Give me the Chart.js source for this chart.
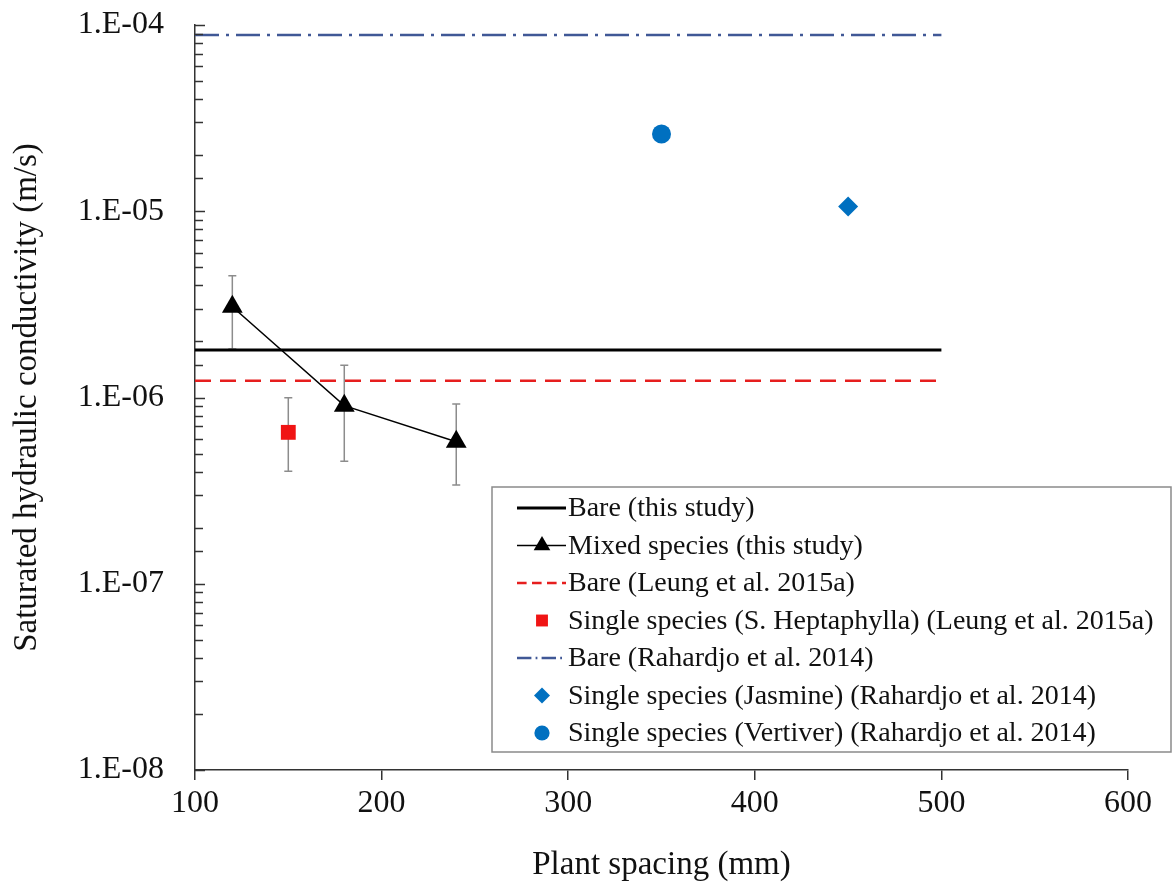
<!DOCTYPE html>
<html>
<head>
<meta charset="utf-8">
<script src="https://cdn.jsdelivr.net/npm/chart.js@4.4.1/dist/chart.umd.min.js"></script>
<style>
  html, body { margin: 0; padding: 0; background: #fff; }
  #wrap { width: 1173px; height: 890px; }
</style>
</head>
<body>
<div id="wrap"><canvas id="myChart" width="1173" height="890"></canvas></div>
<script>
// values (plant spacing in mm, k_sat in m/s)
var lineSpan = [100, 500];
var bareThisStudy = 1.80e-6;
var bareLeung = 1.23e-6;
var bareRahardjo = 8.84e-5;

var mixedSpacing = [120, 180, 240];
var mixedK = [3.07e-6, 9.04e-7, 5.79e-7];
var mixedHigh = [4.51e-6, 1.49e-6, 9.23e-7];
var mixedLow = [1.82e-6, 4.54e-7, 3.39e-7];

var heptaSpacing = [150];
var heptaK = [6.50e-7];
var heptaHigh = [9.97e-7];
var heptaLow = [4.02e-7];

var jasmineSpacing = [450];
var jasmineK = [1.06e-5];
var vertiverSpacing = [350];
var vertiverK = [2.60e-5];

var yMajorTicks = [1e-8, 1e-7, 1e-6, 1e-5, 1e-4];

var seriesLabels = [
    'Bare (this study)',
    'Mixed species (this study)',
    'Bare (Leung et al. 2015a)',
    'Single species (S. Heptaphylla) (Leung et al. 2015a)',
    'Bare (Rahardjo et al. 2014)',
    'Single species (Jasmine) (Rahardjo et al. 2014)',
    'Single species (Vertiver) (Rahardjo et al. 2014)'
];

function toPoints(xs, ys) {
    return xs.map(function (x, i) { return { x: x, y: ys[i] }; });
}
function flat(xs, v) {
    return xs.map(function (x) { return { x: x, y: v }; });
}

var serif = 'Liberation Serif';
var blue = 'rgb(0,112,192)';

// error bars drawn through the chart scales
var errorBars = [
    { xs: mixedSpacing, hi: mixedHigh, lo: mixedLow },
    { xs: heptaSpacing, hi: heptaHigh, lo: heptaLow }
];

var errorBarPlugin = {
    id: 'errorBars',
    beforeDatasetsDraw: function (chart) {
        var ctx = chart.ctx;
        var xs = chart.scales.x, ys = chart.scales.y;
        ctx.save();
        ctx.strokeStyle = '#8c8c8c';
        ctx.lineWidth = 1.5;
        errorBars.forEach(function (eb) {
            eb.xs.forEach(function (x, i) {
                var px = xs.getPixelForValue(x);
                var top = ys.getPixelForValue(eb.hi[i]);
                var bot = ys.getPixelForValue(eb.lo[i]);
                ctx.beginPath();
                ctx.moveTo(px, top); ctx.lineTo(px, bot);
                ctx.moveTo(px - 4, top); ctx.lineTo(px + 4, top);
                ctx.moveTo(px - 4, bot); ctx.lineTo(px + 4, bot);
                ctx.stroke();
            });
        });
        ctx.restore();
    }
};

// y ticks point into the plot, like the original
var innerTicksPlugin = {
    id: 'innerTicks',
    afterDraw: function (chart) {
        var ctx = chart.ctx;
        var ys = chart.scales.y;
        var left = chart.chartArea.left;
        ctx.save();
        ctx.strokeStyle = '#333';
        ctx.lineWidth = 1.5;
        ys.ticks.forEach(function (t) {
            var py = Math.round(ys.getPixelForValue(t.value)) + 0.5;
            var major = yMajorTicks.some(function (m) { return Math.abs(t.value / m - 1) < 1e-6; });
            ctx.beginPath();
            ctx.moveTo(left, py);
            ctx.lineTo(left + (major ? 10 : 8), py);
            ctx.stroke();
        });
        ctx.restore();
    }
};

var legendBoxPlugin = {
    id: 'legendBox',
    afterDraw: function (chart) {
        var ctx = chart.ctx;
        var box = { x: 492, y: 487, w: 679, h: 265 };
        ctx.save();
        ctx.fillStyle = '#fff';
        ctx.fillRect(box.x, box.y, box.w, box.h);
        ctx.strokeStyle = '#8a8a8a';
        ctx.lineWidth = 1.5;
        ctx.strokeRect(box.x, box.y, box.w, box.h);
        ctx.font = '28px "' + serif + '"';
        ctx.textBaseline = 'middle';
        chart.data.datasets.forEach(function (ds, i) {
            var y = 508 + i * 37.5;
            if (ds.showLine) {
                ctx.save();
                ctx.strokeStyle = ds.borderColor;
                ctx.lineWidth = ds.borderWidth;
                ctx.setLineDash((ds.borderDash || []).map(function (d) { return d * 0.6; }));
                ctx.beginPath();
                ctx.moveTo(517, y); ctx.lineTo(566, y);
                ctx.stroke();
                ctx.restore();
            }
            if (ds.pointRadius > 0) {
                ctx.fillStyle = ds.pointBackgroundColor;
                ctx.strokeStyle = ds.pointBackgroundColor;
                Chart.helpers.drawPoint(ctx, {
                    pointStyle: ds.pointStyle,
                    radius: ds.pointRadius * 0.8,
                    rotation: 0,
                    borderWidth: 0
                }, 542, y);
            }
            ctx.fillStyle = '#111';
            ctx.fillText(ds.label, 568, y + 1);
        });
        ctx.restore();
    }
};

var ctx = document.getElementById('myChart').getContext('2d');

var myChart = new Chart(ctx, {
    type: 'scatter',
    data: {
        datasets: [{
            label: seriesLabels[0],
            data: flat(lineSpan, bareThisStudy),
            showLine: true,
            borderColor: '#000',
            borderWidth: 3,
            pointRadius: 0
        }, {
            label: seriesLabels[1],
            data: toPoints(mixedSpacing, mixedK),
            showLine: true,
            borderColor: '#000',
            borderWidth: 1.5,
            pointStyle: 'triangle',
            pointRadius: 12,
            pointBackgroundColor: '#000',
            pointBorderColor: '#000',
            pointBorderWidth: 0
        }, {
            label: seriesLabels[2],
            data: flat(lineSpan, bareLeung),
            showLine: true,
            borderColor: 'rgb(230,30,30)',
            borderWidth: 2.5,
            borderDash: [16, 9],
            pointRadius: 0
        }, {
            label: seriesLabels[3],
            data: toPoints(heptaSpacing, heptaK),
            showLine: false,
            pointStyle: 'rect',
            pointRadius: 10.5,
            pointBackgroundColor: 'rgb(240,20,20)',
            pointBorderColor: 'rgb(240,20,20)',
            pointBorderWidth: 0
        }, {
            label: seriesLabels[4],
            data: flat(lineSpan, bareRahardjo),
            showLine: true,
            borderColor: 'rgb(64,88,150)',
            borderWidth: 2.5,
            borderDash: [24, 7, 3, 7],
            pointRadius: 0
        }, {
            label: seriesLabels[5],
            data: toPoints(jasmineSpacing, jasmineK),
            showLine: false,
            pointStyle: 'rectRot',
            pointRadius: 10,
            pointBackgroundColor: blue,
            pointBorderColor: blue,
            pointBorderWidth: 0
        }, {
            label: seriesLabels[6],
            data: toPoints(vertiverSpacing, vertiverK),
            showLine: false,
            pointStyle: 'circle',
            pointRadius: 9.5,
            pointBackgroundColor: blue,
            pointBorderColor: blue,
            pointBorderWidth: 0
        }]
    },
    options: {
        responsive: false,
        animation: false,
        devicePixelRatio: 1,
        layout: { padding: { top: 25, right: 45, left: 0, bottom: 0 } },
        plugins: {
            legend: { display: false },
            tooltip: { enabled: false }
        },
        scales: {
            x: {
                type: 'linear',
                min: 100,
                max: 600,
                ticks: {
                    stepSize: 100,
                    color: '#111',
                    padding: 4,
                    font: { family: serif, size: 32 }
                },
                grid: {
                    drawOnChartArea: false,
                    drawTicks: true,
                    tickLength: 10,
                    color: '#333',
                    lineWidth: 1.5
                },
                border: { color: '#333', width: 1.5 },
                title: {
                    display: true,
                    text: 'Plant spacing (mm)',
                    color: '#111',
                    font: { family: serif, size: 33 },
                    padding: { top: 0, bottom: 5 }
                },
                afterFit: function (scale) { scale.height = 120; }
            },
            y: {
                type: 'logarithmic',
                min: 1e-8,
                max: 1e-4,
                ticks: {
                    autoSkip: false,
                    color: '#111',
                    padding: 31,
                    font: { family: serif, size: 32 },
                    callback: function (v) {
                        for (var i = 0; i < yMajorTicks.length; i++) {
                            if (Math.abs(v / yMajorTicks[i] - 1) < 1e-6) {
                                var e = Math.round(Math.log10(v));
                                return '1.E-' + String(-e).padStart(2, '0');
                            }
                        }
                        return '';
                    }
                },
                grid: {
                    drawOnChartArea: false,
                    drawTicks: false,
                    tickLength: 0
                },
                border: { color: '#333', width: 1.5 },
                title: {
                    display: true,
                    text: 'Saturated hydraulic conductivity (m/s)',
                    color: '#111',
                    font: { family: serif, size: 33 },
                    padding: { top: 8, bottom: 0 }
                },
                afterFit: function (scale) {
                    scale.width = 195;
                    scale.paddingTop = 0;
                    scale.paddingBottom = 0;
                }
            }
        }
    },
    plugins: [errorBarPlugin, innerTicksPlugin, legendBoxPlugin]
});
</script>
</body>
</html>
